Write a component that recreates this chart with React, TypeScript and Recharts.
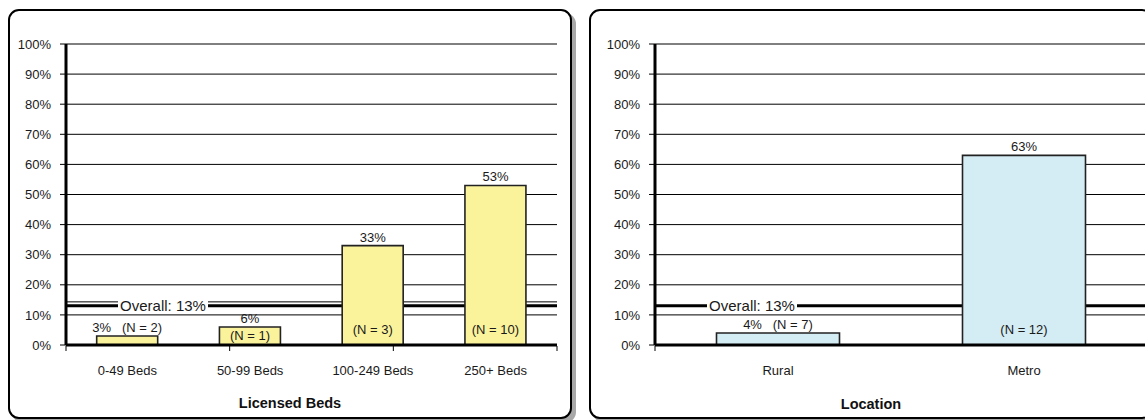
import React from 'react'
import { Bar, BarChart, CartesianGrid, LabelList, ReferenceLine, XAxis, YAxis } from 'recharts'

// Licensed beds panel
const bedCategories = ['0-49 Beds', '50-99 Beds', '100-249 Beds', '250+ Beds']
const bedRates = [3, 6, 33, 53]
const bedCounts = [2, 1, 3, 10]

// Location panel
const locationCategories = ['Rural', 'Metro']
const locationRates = [4, 63]
const locationCounts = [7, 12]

const overallRate = 13
const yTicks = [0, 10, 20, 30, 40, 50, 60, 70, 80, 90, 100]

const FONT = '"Liberation Sans", Arial, sans-serif'
const TEXT = '#1a1a1a'

const DoubleLine = (props: any) => {
  const { x1, y1, x2, y2 } = props
  return (
    <g>
      <line x1={x1} y1={y1} x2={x2} y2={y2} stroke="#000" strokeWidth={3} />
      <line x1={x1} y1={y1 - 4} x2={x2} y2={y2 - 4} stroke="#000" strokeWidth={1} />
    </g>
  )
}

const SingleLine = (props: any) => {
  const { x1, y1, x2, y2 } = props
  return <line x1={x1} y1={y1} x2={x2} y2={y2} stroke="#000" strokeWidth={3} />
}

const OverallLabel = ({ viewBox }: any) => {
  if (!viewBox) return null
  const cx = viewBox.x + 97
  const cy = viewBox.y
  return (
    <g>
      <rect x={cx - 45} y={cy - 9} width={90} height={15} fill="#fff" />
      <text x={cx} y={cy + 5} textAnchor="middle" fontSize={15} fill={TEXT} fontFamily={FONT}>
        {`Overall: ${overallRate}%`}
      </text>
    </g>
  )
}

const renderBarLabel = (p: any, rates: number[], counts: number[]) => {
  const x = Number(p.x)
  const y = Number(p.y)
  const w = Number(p.width)
  const h = Number(p.height)
  const i = p.index
  const cx = x + w / 2
  const pct = `${rates[i]}%`
  const n = `(N = ${counts[i]})`
  if (h < 14) {
    return (
      <text x={cx} y={y - 4} textAnchor="middle" fontSize={13} fill={TEXT} fontFamily={FONT} style={{ whiteSpace: 'pre' }}>
        {`${pct}   ${n}`}
      </text>
    )
  }
  const ny = h < 30 ? y + h / 2 + 4.5 : y + h - 11
  return (
    <g>
      <text x={cx} y={y - 4} textAnchor="middle" fontSize={13} fill={TEXT} fontFamily={FONT}>
        {pct}
      </text>
      <text x={cx} y={ny} textAnchor="middle" fontSize={13} fill={TEXT} fontFamily={FONT}>
        {n}
      </text>
    </g>
  )
}

// boundary tick marks only, no text
const NoTickText = () => <g />

interface PanelProps {
  categories: string[]
  rates: number[]
  counts: number[]
  fill: string
  width: number
  rightMargin: number
  doubleLine: boolean
}

const RateChart: React.FC<PanelProps> = ({ categories, rates, counts, fill, width, rightMargin, doubleLine }) => {
  const data = categories.map((name, i) => ({ name, rate: rates[i] }))
  const edges = categories.map((_, i) => i).concat(categories.length)
  return (
    <BarChart
      width={width}
      height={420}
      data={data}
      barCategoryGap="25%"
      margin={{ top: 44, right: rightMargin, bottom: 73, left: 10 }}
    >
      <CartesianGrid vertical={false} stroke="#000" strokeWidth={1} horizontalValues={yTicks} />
      <XAxis
        dataKey="name"
        height={1}
        tickLine={false}
        tickSize={0}
        tickMargin={21}
        axisLine={{ stroke: '#000', strokeWidth: 3 }}
        tick={{ fontSize: 13, fill: TEXT, fontFamily: FONT }}
        interval={0}
      />
      <XAxis
        xAxisId="edge"
        type="number"
        domain={[0, categories.length]}
        ticks={edges}
        interval={0}
        height={1}
        tick={NoTickText}
        axisLine={false}
        tickSize={5}
        tickLine={{ stroke: '#000', strokeWidth: 1 }}
      />
      <YAxis
        domain={[0, 100]}
        ticks={yTicks}
        interval={0}
        width={56}
        tickSize={6}
        tickMargin={9}
        tickFormatter={(v: number) => `${v}%`}
        axisLine={{ stroke: '#000', strokeWidth: 3 }}
        tickLine={{ stroke: '#000', strokeWidth: 1 }}
        tick={{ fontSize: 13, fill: TEXT, fontFamily: FONT }}
      />
      <ReferenceLine
        y={overallRate}
        zIndex={250}
        shape={doubleLine ? DoubleLine : SingleLine}
        label={{ content: (p: any) => <OverallLabel viewBox={p.viewBox} /> }}
      />
      <Bar dataKey="rate" fill={fill} stroke="#222" strokeWidth={1.6} isAnimationActive={false}>
        <LabelList dataKey="rate" content={(p: any) => renderBarLabel(p, rates, counts)} />
      </Bar>
    </BarChart>
  )
}

const panelStyle: React.CSSProperties = {
  position: 'absolute',
  top: 9,
  width: 564,
  height: 410,
  boxSizing: 'border-box',
  border: '2px solid #000',
  borderRadius: 11,
  boxShadow: '4px 4px 0 #a8a8a8',
  background: '#fff',
}

const titleStyle: React.CSSProperties = {
  position: 'absolute',
  top: 395,
  textAlign: 'center',
  fontWeight: 'bold',
  fontSize: 14.5,
  color: '#111',
  fontFamily: FONT,
}

export default function App() {
  return (
    <div style={{ position: 'absolute', left: 0, top: 0, width: 1145, height: 420, overflow: 'hidden', background: '#fff' }}>
      <div style={{ ...panelStyle, left: 8 }} />
      <div style={{ ...panelStyle, left: 589 }} />
      <div style={{ position: 'absolute', left: 0, top: 0 }}>
        <RateChart
          categories={bedCategories}
          rates={bedRates}
          counts={bedCounts}
          fill="#FAF39C"
          width={572}
          rightMargin={15}
          doubleLine
        />
      </div>
      <div style={{ position: 'absolute', left: 589, top: 0 }}>
        <RateChart
          categories={locationCategories}
          rates={locationRates}
          counts={locationCounts}
          fill="#D4ECF3"
          width={564}
          rightMargin={6}
          doubleLine={false}
        />
      </div>
      <div style={{ ...titleStyle, left: 8, width: 564 }}>Licensed Beds</div>
      <div style={{ ...titleStyle, left: 589, width: 564, top: 396 }}>Location</div>
    </div>
  )
}
